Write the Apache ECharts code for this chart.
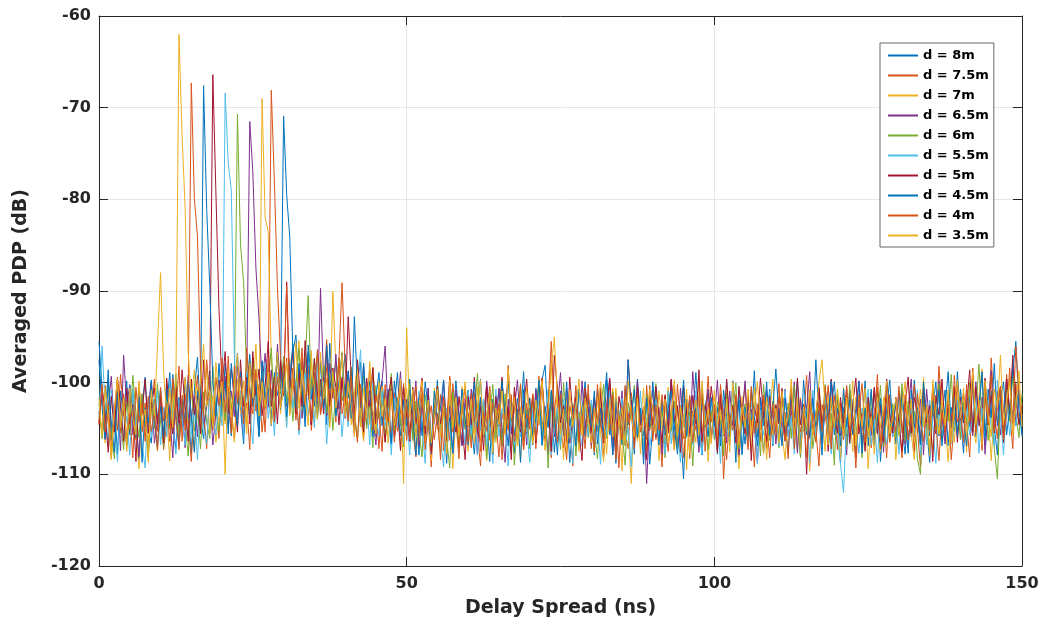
<!DOCTYPE html>
<html>
<head>
<meta charset="utf-8">
<title>Averaged PDP</title>
<script src="https://cdn.jsdelivr.net/npm/echarts@6/dist/echarts.min.js"></script>
<style>
  html, body { margin: 0; padding: 0; background: #fff; }
  #main { width: 1043px; height: 620px; }
</style>
</head>
<body>
<div id="main"></div>
<script>
// delay grid: one sample every 0.5 ns, 0..150 ns
var step = 0.5;

// averaged PDP (dB), one array per distance
var d8 = [
  -95.5, -100.7, -104.2, -98.6, -106.3, -102.4, -107.8, -100.9, -103.6, -99.8, -105.7, -101.5, -104.8, -108.4, -102.7, -99.4, -105.1, -106.6, -101.8, -103.9,
  -100.6, -105.8, -102.7, -98.9, -104.4, -107.2, -101.6, -104.9, -99.5, -103.3, -107.7, -100.8, -97.2, -103.8, -106.1, -101.9, -98.7, -104.6, -102.8, -99.7,
  -103.7, -97.9, -101.6, -105.8, -100.7, -96.8, -102.9, -106.7, -99.6, -104.1, -98.8, -101.7, -105.9, -97.6, -102.8, -100.5, -104.7, -98.9, -101.4, -99.6,
  -70.9, -79.5, -84.1, -96.7, -94.8, -100.6, -97.7, -103.8, -95.9, -99.7, -102.6, -96.8, -101.5, -98.7, -104.6, -95.7, -100.8, -97.6, -102.9, -99.8,
  -96.9, -101.7, -98.6, -103.8, -99.7, -97.8, -104.6, -100.9, -102.7, -99.2, -105.8, -101.6, -99.8, -103.7, -100.7, -106.8, -102.6, -98.9, -104.7, -101.8,
  -103.8, -99.6, -105.7, -102.8, -107.9, -101.7, -104.8, -100.6, -106.7, -103.7, -99.7, -105.6, -102.9, -108.8, -101.9, -104.7, -99.8, -103.6, -106.8, -102.7,
  -100.8, -104.6, -107.8, -102.9, -99.6, -105.8, -103.7, -108.6, -101.8, -104.9, -100.7, -106.9, -102.6, -99.8, -104.8, -107.7, -101.7, -103.9, -98.8, -105.6,
  -102.8, -106.8, -100.6, -103.9, -99.7, -98.1, -104.7, -101.8, -107.6, -103.6, -100.9, -105.8, -102.7, -108.7, -104.6, -101.8, -106.7, -102.9, -99.9, -105.7,
  -103.7, -107.9, -100.8, -104.9, -102.6, -98.9, -105.7, -101.9, -108.8, -103.8, -106.8, -100.7, -104.6, -102.9, -107.8, -99.6, -103.9, -105.8, -101.7, -108.9,
  -104.8, -100.6, -105.9, -102.8, -107.7, -103.9, -99.8, -106.8, -102.7, -104.9, -110.5, -101.8, -105.7, -103.8, -98.9, -104.7, -107.9, -102.6, -100.8, -105.8,
  -103.6, -107.8, -101.7, -105.8, -99.9, -104.8, -102.6, -108.7, -100.8, -103.9, -106.7, -101.9, -104.6, -98.7, -105.9, -102.8, -107.7, -103.8, -100.7, -106.9,
  -102.7, -105.9, -100.8, -104.7, -107.8, -101.6, -103.9, -99.8, -106.8, -102.9, -105.7, -100.9, -104.8, -97.5, -103.7, -107.9, -101.8, -105.6, -102.8, -99.9,
  -104.9, -108.8, -102.7, -105.9, -100.8, -103.8, -107.7, -101.9, -104.7, -99.8, -106.9, -102.8, -105.7, -100.9, -108.6, -103.7, -101.8, -105.8, -102.9, -106.7,
  -100.9, -104.8, -107.8, -102.7, -105.9, -99.7, -103.8, -106.8, -101.7, -104.9, -108.7, -102.8, -99.9, -105.8, -103.6, -100.8, -106.9, -102.7, -104.8, -98.8,
  -103.9, -107.7, -101.8, -104.8, -99.8, -105.9, -102.9, -98.9, -106.8, -103.8, -100.9, -104.7, -107.9, -101.7, -105.8, -99.9, -103.8, -97.9, -102.8, -100.8,
  -103.9
];
var d75 = [
  -103.2, -105.6, -100.3, -104.1, -108.3, -102.4, -105.2, -99.1, -103.4, -107.1, -101.3, -104.6, -106.2, -100.1, -105.4, -102.2, -107.9, -103.1, -99.6, -105.3,
  -102.1, -107.3, -104.4, -100.2, -105.1, -103.3, -98.2, -106.4, -101.2, -104.3, -108.6, -102.3, -99.2, -105.5, -103.1, -107.2, -100.4, -104.2, -102.4, -106.1,
  -100.3, -104.2, -97.1, -103.4, -106.2, -101.3, -99.1, -104.4, -102.2, -107.3, -98.3, -103.1, -100.2, -105.4, -102.1, -99.3, -68.1, -78, -89.6, -97.2,
  -101.1, -97.3, -103.2, -99.4, -104.1, -100.3, -96.2, -102.4, -98.1, -105.2, -101.3, -97.1, -103.4, -100.2, -95.3, -102.1, -99.2, -104.3, -97.4, -89.1,
  -98.2, -103.3, -100.1, -105.4, -99.2, -102.3, -106.1, -101.4, -104.2, -98.3, -103.1, -107.2, -100.4, -104.1, -102.3, -106.2, -101.1, -105.3, -103.2, -100.1,
  -106.3, -102.1, -105.2, -108.1, -103.4, -100.2, -106.1, -104.3, -109.2, -102.2, -105.1, -101.3, -107.4, -103.2, -106.3, -100.1, -104.2, -108.3, -102.4, -105.1,
  -103.3, -107.1, -101.2, -105.4, -109.1, -103.2, -100.4, -106.3, -102.1, -104.2, -108.1, -103.3, -105.2, -98.1, -104.3, -101.1, -106.2, -103.4, -107.3, -102.2,
  -105.1, -101.3, -107.2, -99.3, -104.1, -106.4, -102.2, -108.2, -103.1, -100.3, -105.2, -107.1, -102.4, -104.3, -109.1, -101.2, -106.3, -103.1, -105.4, -100.2,
  -107.2, -103.1, -105.3, -101.4, -108.1, -104.2, -100.1, -106.3, -103.2, -109.3, -102.1, -105.4, -107.2, -101.1, -104.4, -106.1, -103.3, -108.2, -100.3, -105.2,
  -102.4, -106.2, -104.1, -109.2, -101.3, -105.1, -103.4, -107.3, -100.2, -104.3, -106.1, -102.2, -108.3, -103.1, -105.2, -101.4, -107.1, -104.2, -99.3, -106.4,
  -103.1, -107.4, -101.2, -110.5, -104.3, -106.1, -102.4, -105.2, -108.1, -103.3, -100.2, -106.3, -104.1, -109.2, -102.3, -105.1, -101.4, -107.2, -103.1, -106.3,
  -104.2, -100.1, -106.4, -103.2, -108.3, -101.1, -105.3, -102.2, -107.1, -104.4, -99.2, -106.1, -103.3, -105.2, -109.1, -102.4, -104.1, -100.3, -106.2, -103.1,
  -107.3, -102.2, -105.1, -101.4, -106.2, -104.1, -109.3, -103.2, -100.1, -105.3, -102.4, -107.1, -104.2, -99.1, -106.3, -103.1, -108.2, -101.3, -105.1, -102.2,
  -104.1, -108.2, -101.3, -106.1, -103.4, -100.2, -105.1, -109.2, -102.3, -104.1, -107.3, -101.2, -105.4, -98.2, -103.1, -106.3, -102.1, -108.4, -104.2, -100.3,
  -106.1, -101.2, -104.3, -108.1, -99.2, -105.3, -102.1, -107.4, -100.2, -104.1, -97.3, -103.2, -106.1, -101.3, -105.2, -99.1, -103.3, -107.2, -100.1, -104.4,
  -102.3
];
var d7 = [
  -104.5, -100.4, -106.6, -102.5, -108.4, -103.6, -99.5, -105.4, -101.6, -107.5, -103.4, -100.6, -105.5, -109.4, -102.6, -104.5, -106.4, -101.5, -103.6, -107.4,
  -101.5, -105.6, -103.4, -108.5, -100.6, -104.4, -106.5, -102.6, -99.4, -105.5, -103.6, -107.4, -100.5, -104.6, -102.4, -98.5, -105.6, -101.4, -106.5, -103.6,
  -100.4, -104.5, -98.6, -102.4, -106.5, -99.6, -103.4, -101.5, -105.6, -97.4, -102.5, -100.6, -104.4, -69, -82, -83.5, -97.4, -101.6, -96.5, -103.4,
  -99.5, -104.6, -97.4, -102.5, -100.6, -95.4, -103.5, -98.6, -101.4, -96.5, -104.4, -100.5, -97.6, -102.4, -99.5, -103.6, -90, -98.4, -101.5, -96.6,
  -102.4, -99.5, -104.6, -101.4, -97.5, -103.6, -106.4, -100.5, -104.6, -98.4, -105.5, -102.6, -100.4, -106.5, -103.6, -99.4, -105.5, -101.6, -107.4, -103.5,
  -100.6, -105.4, -102.5, -107.6, -104.4, -101.5, -106.6, -103.4, -108.5, -100.6, -104.4, -107.5, -102.6, -105.4, -101.5, -109.4, -103.6, -106.5, -100.4, -104.6,
  -107.5, -102.4, -105.6, -100.5, -106.4, -103.6, -108.5, -101.4, -104.6, -106.5, -102.4, -99.6, -105.5, -103.4, -107.6, -101.5, -104.4, -108.6, -102.5, -105.4,
  -101.6, -106.5, -103.4, -99.6, -104.5, -107.4, -102.6, -97.5, -105.4, -100.6, -103.5, -108.4, -101.6, -106.5, -104.4, -102.6, -107.5, -103.4, -100.6, -105.5,
  -103.4, -107.6, -101.5, -105.4, -108.6, -102.5, -104.4, -100.6, -106.5, -103.4, -109.6, -101.5, -105.4, -111, -102.6, -106.4, -104.5, -100.6, -107.4, -103.5,
  -105.6, -101.4, -108.5, -103.6, -106.4, -100.5, -104.6, -107.4, -102.5, -105.6, -103.4, -109.5, -101.6, -104.4, -106.5, -99.6, -105.4, -102.5, -108.6, -103.4,
  -101.5, -105.6, -103.4, -107.5, -100.6, -106.4, -102.5, -104.6, -109.4, -101.5, -105.6, -103.4, -107.5, -100.6, -104.4, -106.5, -102.6, -108.4, -103.5, -99.6,
  -106.4, -102.5, -105.6, -108.4, -103.5, -100.6, -104.4, -107.5, -101.6, -105.4, -102.5, -109.6, -104.4, -106.5, -100.6, -103.4, -107.5, -101.6, -105.4, -102.5,
  -104.6, -108.4, -100.5, -105.6, -103.4, -107.5, -101.6, -104.4, -106.5, -102.6, -109.4, -103.5, -100.6, -105.4, -107.5, -101.6, -104.4, -106.5, -102.6, -108.4,
  -103.5, -100.6, -106.4, -102.5, -105.6, -108.4, -101.5, -104.6, -99.4, -106.5, -103.6, -107.4, -102.5, -105.6, -100.4, -104.5, -108.6, -103.4, -106.5, -101.6,
  -105.4, -102.5, -107.6, -100.4, -104.5, -106.6, -101.4, -98.5, -105.6, -103.4, -108.5, -102.6, -104.4, -100.5, -106.6, -103.4, -99.5, -105.6, -101.4, -104.5,
  -103.5
];
var d65 = [
  -104.3, -100.8, -106.2, -102.7, -99.3, -105.1, -101.8, -107.4, -97, -102.6, -100.2, -105.7, -103.9, -108.1, -101.3, -104.8, -102.5, -99.9, -106.6, -104.2,
  -101.7, -106.3, -100.1, -103.6, -108.2, -100.8, -104.9, -102.4, -107.1, -99.2, -103.8, -101.5, -105.9, -100.3, -104.7, -102.6, -100.9, -106.8, -103.4, -99.7,
  -102.8, -99.3, -104.6, -100.9, -103.7, -98.2, -101.8, -105.6, -99.9, -71.5, -77, -87.5, -93, -100.2, -96.8, -102.7, -98.6, -103.9, -95.8, -100.7,
  -97.8, -102.6, -99.7, -96.3, -101.8, -98.6, -103.9, -96.8, -100.7, -104.6, -98.9, -102.7, -89.7, -99.8, -103.6, -97.9, -101.7, -96.9, -102.8, -99.6,
  -103.9, -98.7, -101.8, -105.6, -99.8, -102.7, -97.9, -104.6, -100.8, -103.7, -106.8, -101.6, -99.8, -96, -103.8, -100.6, -105.9, -102.7, -98.8, -104.7,
  -101.8, -105.7, -103.6, -99.8, -106.9, -102.7, -104.8, -100.6, -107.8, -103.9, -101.7, -105.8, -99.7, -104.9, -102.6, -107.7, -100.8, -103.6, -106.9, -101.7,
  -104.8, -100.7, -103.8, -107.9, -101.6, -105.7, -99.8, -102.9, -106.7, -103.8, -100.6, -104.9, -108.7, -101.8, -105.6, -102.9, -99.7, -104.8, -101.9, -106.8,
  -102.9, -105.7, -100.8, -104.6, -99.9, -103.7, -107.8, -101.6, -105.9, -102.7, -98.9, -104.8, -100.7, -106.6, -103.9, -101.7, -105.8, -99.8, -104.9, -102.6,
  -106.8, -101.7, -104.9, -100.6, -105.8, -103.9, -99.7, -107.8, -102.6, -104.8, -100.9, -106.7, -103.8, -101.9, -105.7, -99.8, -104.6, -102.8, -111, -103.7,
  -100.8, -105.9, -102.7, -107.8, -101.6, -104.9, -99.7, -103.8, -106.9, -100.6, -104.8, -102.7, -105.9, -98.8, -103.7, -107.6, -101.9, -104.8, -100.7, -105.9,
  -103.8, -99.7, -105.9, -102.8, -106.6, -100.9, -104.7, -101.8, -107.9, -103.7, -99.8, -105.6, -102.9, -104.7, -108.8, -101.6, -103.9, -100.8, -105.7, -102.9,
  -106.7, -102.8, -104.9, -100.7, -105.8, -103.6, -99.9, -107.7, -101.8, -104.6, -102.9, -98.8, -105.7, -103.9, -100.6, -106.8, -102.7, -104.9, -99.7, -103.8,
  -101.9, -105.8, -103.7, -107.9, -100.8, -104.6, -102.9, -99.8, -106.7, -103.9, -101.6, -105.8, -100.9, -104.7, -102.8, -107.6, -99.9, -103.8, -105.9, -101.7,
  -104.8, -100.9, -106.7, -102.8, -99.6, -105.9, -103.7, -101.8, -107.9, -100.7, -104.8, -102.9, -105.6, -99.8, -103.9, -106.7, -101.8, -104.9, -100.6, -105.8,
  -102.7, -106.9, -100.8, -103.7, -105.8, -99.9, -104.7, -101.6, -107.8, -102.9, -98.7, -104.8, -100.9, -105.7, -102.8, -99.6, -103.9, -97.8, -104.7, -101.9,
  -103.8
];
var d6 = [
  -102.2, -106.1, -103.3, -100.0, -105.2, -108.3, -101.1, -104.2, -107.3, -102.0, -105.1, -99.2, -103.3, -106.0, -101.2, -104.1, -108.2, -102.3, -105.0, -100.1,
  -104.3, -107.0, -101.2, -105.1, -103.3, -99.0, -106.2, -102.1, -104.3, -108.0, -100.2, -105.3, -103.1, -107.2, -101.0, -104.3, -106.1, -98.2, -103.0, -105.2,
  -101.3, -104.1, -99.2, -103.0, -100.3, -70.7, -85, -89, -99.1, -103.2, -97.3, -101.0, -104.2, -98.1, -102.3, -100.0, -96.2, -103.1, -99.3, -101.2,
  -97.1, -102.3, -99.0, -104.2, -100.1, -96.3, -103.0, -98.2, -90.5, -101.1, -97.3, -104.0, -100.2, -98.1, -103.3, -99.0, -105.2, -101.1, -97.3, -102.0,
  -100.2, -104.1, -98.3, -103.0, -106.2, -101.1, -99.3, -105.0, -102.2, -107.1, -100.3, -104.0, -101.2, -106.1, -103.3, -99.0, -105.2, -102.1, -104.3, -107.0,
  -103.2, -100.1, -106.3, -102.0, -105.2, -108.1, -101.3, -104.0, -107.2, -103.1, -100.3, -105.0, -102.2, -106.1, -109.3, -101.0, -104.2, -107.1, -102.3, -105.0,
  -101.2, -106.1, -103.3, -99.0, -105.2, -102.1, -108.3, -104.0, -100.2, -106.1, -103.3, -107.0, -101.2, -105.1, -102.3, -109.0, -104.2, -100.1, -106.3, -103.0,
  -107.2, -102.1, -104.3, -100.0, -106.2, -103.1, -109.3, -101.0, -105.2, -103.1, -107.3, -100.0, -104.2, -106.1, -102.3, -108.0, -103.2, -105.1, -101.3, -106.0,
  -102.2, -105.1, -108.3, -103.0, -100.2, -106.1, -104.3, -101.0, -107.2, -103.1, -105.3, -109.0, -102.2, -104.1, -100.3, -106.0, -103.2, -107.1, -101.3, -105.0,
  -104.2, -100.1, -106.3, -103.0, -108.2, -101.1, -105.3, -102.0, -107.2, -104.1, -100.3, -106.0, -103.2, -109.1, -102.3, -105.0, -101.2, -104.1, -107.3, -103.0,
  -106.2, -102.1, -104.3, -108.0, -101.2, -105.1, -103.3, -100.0, -107.2, -104.1, -102.3, -106.0, -101.2, -105.1, -103.3, -108.0, -100.2, -104.1, -106.3, -102.0,
  -103.2, -107.1, -101.3, -105.0, -102.2, -106.1, -100.3, -104.0, -108.2, -103.1, -105.3, -101.0, -107.2, -104.1, -102.3, -106.0, -100.2, -105.1, -103.3, -109.0,
  -101.2, -105.1, -103.3, -107.0, -100.2, -104.1, -106.3, -102.0, -108.2, -103.1, -105.3, -101.0, -106.2, -104.1, -100.3, -107.0, -103.2, -105.1, -102.3, -106.0,
  -104.2, -100.1, -106.3, -102.0, -105.2, -103.1, -108.3, -110, -101.2, -104.1, -107.3, -102.0, -105.2, -100.1, -106.3, -103.0, -104.2, -99.1, -105.3, -102.0,
  -106.2, -102.1, -104.3, -100.0, -105.2, -103.1, -98, -104.2, -101.1, -106.3, -103.0, -107.2, -110.5, -102.1, -105.3, -100.0, -104.2, -99.1, -103.3, -106.0,
  -101.2
];
var d55 = [
  -103.8, -96, -102.7, -106.9, -100.8, -104.7, -108.6, -101.9, -105.8, -103.7, -107.9, -100.7, -104.8, -102.9, -106.7, -109.3, -101.8, -105.9, -103.7, -100.9,
  -106.8, -102.7, -105.9, -99.8, -104.7, -107.8, -101.9, -103.7, -106.8, -100.9, -105.7, -102.8, -108.4, -101.7, -104.9, -106.7, -100.8, -103.9, -105.7, -101.8,
  -104.7, -68.4, -76, -79, -97, -103.8, -100.9, -105.7, -98.8, -102.9, -106.7, -99.8, -104.9, -101.7, -97.8, -103.9, -100.7, -105.8, -98.9, -102.7,
  -100.8, -104.9, -97.7, -102.8, -99.9, -105.7, -101.8, -98.9, -103.7, -100.8, -104.9, -97.7, -102.8, -99.9, -106.7, -101.8, -98.9, -103.7, -100.8, -105.9,
  -101.7, -104.8, -99.9, -103.7, -100.8, -96.4, -104.9, -101.7, -106.8, -99.9, -103.7, -105.8, -100.9, -104.7, -102.8, -107.9, -101.7, -104.8, -99.9, -106.7,
  -103.8, -107.9, -101.7, -105.8, -100.9, -104.7, -108.8, -102.9, -106.7, -103.8, -100.9, -105.7, -109.2, -102.8, -104.9, -107.7, -101.8, -105.9, -103.7, -106.8,
  -100.9, -105.7, -102.8, -107.9, -104.7, -101.8, -106.9, -103.7, -108.8, -100.7, -105.9, -102.8, -104.7, -109.1, -101.9, -106.7, -103.8, -105.9, -100.7, -104.8,
  -108.7, -102.9, -105.8, -101.7, -106.9, -103.8, -100.7, -107.9, -104.8, -102.7, -106.9, -101.8, -105.7, -103.9, -108.8, -100.7, -104.8, -106.9, -102.7, -105.8,
  -101.9, -106.7, -103.8, -108.9, -102.7, -105.8, -100.9, -104.7, -107.8, -103.9, -101.7, -106.8, -104.9, -109.2, -102.7, -105.8, -100.9, -107.7, -103.8, -106.9,
  -104.7, -101.8, -105.9, -103.7, -107.8, -100.9, -106.7, -102.8, -104.9, -108.7, -101.8, -105.9, -103.7, -106.8, -100.9, -104.7, -107.8, -102.9, -105.7, -101.8,
  -105.9, -103.7, -108.8, -101.9, -104.7, -106.8, -102.9, -105.7, -100.8, -107.9, -103.7, -106.8, -101.9, -104.7, -108.8, -102.9, -105.7, -103.8, -100.9, -106.7,
  -102.8, -106.9, -104.7, -100.8, -105.9, -103.7, -107.8, -101.9, -106.7, -104.8, -102.9, -108.7, -100.8, -105.9, -103.7, -106.8, -101.9, -104.7, -107.8, -102.9,
  -105.7, -108.8, -112, -103.9, -106.7, -101.8, -104.9, -107.7, -102.8, -105.9, -100.7, -106.8, -103.9, -108.7, -101.8, -104.9, -106.7, -102.8, -105.9, -103.7,
  -107.8, -101.9, -104.7, -106.8, -102.9, -105.7, -100.8, -107.9, -103.7, -106.8, -101.9, -104.7, -108.8, -102.9, -105.7, -103.8, -100.9, -106.7, -104.8, -101.9,
  -104.7, -106.8, -101.9, -105.7, -103.8, -100.9, -107.7, -102.8, -105.9, -101.7, -104.8, -106.9, -99.7, -103.8, -107.9, -101.7, -105.8, -102.9, -104.7, -100.8,
  -105.8
];
var d5 = [
  -104.6, -100.5, -103.4, -107.6, -101.5, -105.4, -99.6, -102.5, -106.4, -100.6, -104.5, -102.4, -108.6, -101.5, -103.4, -99.6, -105.5, -102.4, -100.6, -104.5,
  -101.4, -106.6, -99.5, -103.4, -105.6, -100.5, -104.4, -98.6, -102.5, -106.4, -99.6, -103.5, -101.4, -105.6, -97.5, -102.4, -100.6, -66.4, -79.3, -92,
  -100.5, -96.6, -103.4, -98.5, -101.6, -105.4, -97.5, -102.6, -99.4, -104.5, -96.6, -101.4, -98.5, -103.6, -100.4, -95.5, -102.6, -99.4, -104.5, -97.6,
  -101.4, -89, -100.5, -96.6, -103.4, -98.5, -102.6, -95.4, -100.5, -104.6, -97.4, -101.5, -99.6, -103.4, -96.5, -102.6, -98.4, -100.5, -104.6, -99.4,
  -102.5, -92.8, -99.6, -103.4, -97.5, -101.6, -105.4, -99.5, -102.6, -98.4, -104.5, -100.6, -103.4, -106.5, -101.6, -99.4, -104.5, -102.6, -107.4, -100.5,
  -103.6, -106.4, -100.5, -104.6, -102.4, -99.5, -105.6, -101.4, -107.5, -103.6, -100.4, -104.5, -102.6, -106.4, -99.5, -103.6, -105.4, -101.5, -104.6, -108.4,
  -101.5, -104.6, -99.4, -105.5, -102.6, -107.4, -100.5, -103.6, -106.4, -101.5, -104.6, -99.4, -105.5, -102.6, -108.4, -100.5, -103.6, -105.4, -102.5, -99.6,
  -104.4, -101.5, -106.6, -103.4, -99.5, -105.6, -102.4, -107.5, -97, -100.6, -104.4, -102.5, -106.6, -99.4, -103.5, -101.6, -105.4, -108.5, -100.6, -103.4,
  -105.5, -101.6, -104.4, -100.5, -106.6, -102.4, -99.5, -104.6, -107.4, -101.5, -103.6, -105.4, -97.5, -102.5, -106.6, -100.4, -104.5, -102.6, -108.4, -101.5,
  -104.6, -100.4, -103.5, -106.6, -101.4, -105.5, -99.6, -104.4, -102.5, -107.6, -100.4, -103.5, -105.6, -101.4, -104.5, -98.6, -106.4, -102.5, -104.6, -100.4,
  -103.5, -107.6, -101.4, -105.5, -99.6, -104.4, -102.5, -106.6, -100.4, -103.5, -105.6, -101.4, -108.5, -102.6, -104.4, -99.5, -103.6, -106.4, -101.5, -105.6,
  -102.4, -104.5, -100.6, -106.4, -103.5, -101.6, -105.4, -99.5, -104.6, -102.4, -110, -101.5, -105.6, -103.4, -100.5, -104.6, -102.4, -107.5, -99.6, -103.4,
  -105.5, -101.6, -104.4, -100.5, -106.6, -102.4, -99.5, -105.6, -103.4, -107.5, -101.6, -104.4, -100.5, -105.6, -102.4, -106.5, -99.6, -103.4, -105.5, -101.6,
  -104.4, -107.5, -102.6, -99.4, -105.5, -101.6, -103.4, -106.5, -100.6, -104.4, -102.5, -108.6, -101.4, -103.5, -99.6, -105.4, -102.5, -104.6, -100.4, -106.5,
  -101.6, -104.4, -102.5, -98.6, -105.4, -100.5, -103.6, -106.4, -99.5, -104.6, -101.4, -105.5, -102.6, -100.4, -106.5, -99.6, -103.4, -97, -101.5, -104.6,
  -102.5
];
var d45 = [
  -97.5, -102.7, -106.1, -99.8, -104.3, -107.6, -100.9, -105.2, -101.7, -106.8, -100.3, -103.6, -105.9, -101.2, -108.7, -102.8, -104.4, -99.7, -103.9, -107.1,
  -102.6, -105.8, -100.7, -104.6, -99.1, -103.7, -106.9, -101.8, -104.3, -99.7, -103.8, -107.6, -100.9, -102.8, -67.6, -81, -89.5, -99.8, -103.6, -97.9,
  -102.7, -99.8, -105.6, -97.9, -101.8, -104.7, -98.8, -103.9, -100.7, -96.9, -102.6, -99.7, -105.8, -97.8, -101.9, -98.7, -103.8, -100.6, -96.8, -102.9,
  -98.8, -103.7, -99.9, -95.8, -102.7, -97.9, -100.6, -104.8, -96.7, -101.8, -99.6, -103.9, -97.7, -102.8, -95.9, -100.7, -98.8, -103.6, -99.9, -96.8,
  -101.7, -98.8, -103.9, -92.8, -100.7, -104.8, -97.9, -102.7, -99.8, -105.9, -101.6, -98.9, -104.7, -100.8, -103.9, -106.6, -99.8, -102.7, -105.8, -101.9,
  -104.7, -100.8, -103.6, -107.9, -101.7, -105.8, -99.9, -102.7, -106.8, -100.9, -104.6, -102.8, -99.7, -105.9, -103.8, -107.7, -101.9, -104.8, -100.7, -103.9,
  -106.8, -102.7, -99.9, -104.8, -101.6, -105.9, -103.7, -100.8, -107.8, -102.9, -104.7, -99.8, -103.6, -106.9, -101.7, -105.8, -102.9, -108.7, -100.8, -104.9,
  -101.7, -105.8, -103.9, -99.7, -106.8, -102.6, -104.9, -100.8, -103.7, -107.9, -101.6, -105.8, -99.9, -104.7, -102.8, -106.9, -100.7, -103.8, -105.9, -101.7,
  -104.8, -100.9, -106.7, -102.8, -105.9, -99.7, -103.8, -107.9, -101.6, -104.8, -102.7, -106.9, -97.5, -103.8, -100.7, -105.9, -102.8, -108.9, -101.7, -104.8,
  -99.9, -103.7, -106.8, -101.9, -105.7, -102.8, -100.9, -104.7, -107.8, -103.9, -99.7, -105.8, -101.9, -104.7, -102.8, -106.9, -100.7, -103.8, -105.9, -101.6,
  -104.8, -102.7, -106.9, -100.8, -103.7, -105.9, -99.8, -104.7, -101.9, -107.8, -102.7, -105.9, -100.8, -103.7, -106.9, -101.8, -104.7, -99.9, -105.8, -102.7,
  -98.5, -103.8, -106.9, -101.7, -104.8, -100.9, -105.7, -102.8, -107.9, -99.7, -103.8, -105.9, -101.7, -104.8, -102.9, -106.7, -100.8, -103.9, -99.8, -105.7,
  -102.8, -106.9, -100.7, -104.8, -101.9, -105.7, -103.8, -99.9, -107.7, -102.8, -104.9, -100.7, -106.8, -103.9, -101.7, -105.8, -102.9, -99.7, -104.8, -101.9,
  -105.7, -101.8, -103.9, -107.7, -100.8, -104.9, -102.7, -106.8, -99.9, -103.7, -105.8, -101.9, -104.7, -100.8, -106.9, -102.7, -98.8, -104.9, -101.7, -105.8,
  -100.7, -103.8, -106.9, -101.7, -99.8, -104.9, -102.7, -98.8, -105.9, -100.7, -103.8, -97.9, -104.7, -101.8, -99.9, -105.7, -102.8, -98.7, -95.5, -102.9,
  -105.8
];
var d4 = [
  -104.3, -100.2, -105.4, -102.5, -107.2, -103.3, -99.4, -105.5, -101.2, -106.3, -103.4, -108.2, -100.5, -104.3, -102.2, -106.4, -101.5, -105.3, -103.2, -107.4,
  -100.5, -104.2, -102.3, -106.4, -99.5, -103.2, -107.3, -101.4, -105.2, -100.3, -67.3, -80, -84, -98.2, -103.4, -97.5, -101.3, -105.2, -99.4, -102.5,
  -97.3, -103.2, -100.4, -105.5, -98.2, -102.3, -99.4, -104.5, -96.2, -101.3, -103.4, -98.5, -102.2, -100.3, -105.4, -97.5, -101.2, -104.3, -99.4, -102.5,
  -100.2, -89.5, -103.3, -98.4, -101.5, -105.2, -97.3, -102.4, -99.5, -104.2, -100.3, -96.4, -103.5, -101.2, -98.3, -104.4, -100.5, -102.2, -97.3, -103.4,
  -101.5, -104.2, -99.3, -103.4, -106.5, -100.2, -104.3, -102.4, -98.5, -105.2, -101.3, -103.4, -107.5, -100.2, -104.3, -101.4, -106.5, -103.2, -100.3, -105.4,
  -102.5, -106.2, -103.3, -100.4, -105.5, -101.2, -107.3, -104.4, -102.5, -106.2, -103.3, -108.4, -101.5, -104.2, -99.3, -105.4, -102.5, -107.2, -103.3, -100.4,
  -106.5, -101.2, -104.3, -102.4, -107.5, -103.2, -105.3, -100.4, -106.5, -104.2, -102.3, -108.4, -103.5, -105.2, -101.3, -106.4, -104.5, -100.2, -107.3, -103.4,
  -104.5, -101.2, -106.3, -103.4, -99.5, -105.2, -102.3, -95.5, -103.4, -106.5, -101.2, -105.3, -108.4, -102.5, -104.2, -100.3, -106.4, -103.5, -107.2, -101.3,
  -103.4, -107.5, -100.2, -104.3, -106.4, -102.5, -105.2, -101.3, -108.4, -103.5, -106.2, -100.3, -104.4, -102.5, -107.2, -101.3, -105.4, -103.5, -106.2, -100.3,
  -106.4, -102.5, -105.2, -101.3, -104.4, -107.5, -103.2, -100.3, -105.4, -102.5, -108.2, -104.3, -101.4, -106.5, -103.2, -105.3, -100.4, -107.5, -102.2, -104.3,
  -102.4, -106.5, -100.2, -104.3, -108.4, -103.5, -105.2, -101.3, -106.4, -102.5, -104.2, -107.3, -100.4, -105.5, -103.2, -106.3, -101.4, -104.5, -108.2, -102.3,
  -105.4, -101.5, -104.2, -106.3, -103.4, -100.5, -107.2, -102.3, -105.4, -103.5, -108.2, -101.3, -104.4, -106.5, -102.2, -105.3, -100.4, -103.5, -107.2, -101.3,
  -104.4, -102.5, -106.2, -100.3, -105.4, -103.5, -108.2, -101.3, -104.4, -106.5, -102.2, -105.3, -103.4, -100.5, -107.2, -104.3, -101.4, -106.5, -103.2, -105.3,
  -100.4, -105.5, -102.2, -106.3, -103.4, -107.5, -101.2, -104.3, -106.4, -102.5, -105.2, -100.3, -104.4, -108.5, -103.2, -105.3, -101.4, -106.5, -99.2, -104.3,
  -103.4, -106.5, -100.2, -104.3, -98.4, -105.5, -102.2, -106.3, -101.4, -104.5, -99.2, -105.3, -102.4, -100.5, -106.2, -103.3, -98.4, -104.5, -96, -101.2,
  -104.3
];
var d35 = [
  -101.7, -105.8, -100.6, -103.9, -107.7, -102.8, -99.6, -104.9, -101.7, -106.8, -100.6, -103.9, -105.7, -99.8, -104.6, -102.9, -108.7, -100.8, -103.6, -96,
  -88, -98.7, -103.8, -100.6, -104.9, -99.7, -62, -73, -81, -96.8, -101.7, -98.6, -103.9, -99.7, -95.8, -102.6, -100.9, -104.7, -97.8, -101.6,
  -99.9, -110, -98.7, -103.8, -100.6, -96.9, -102.7, -99.8, -104.6, -97.9, -101.7, -95.8, -103.6, -99.9, -102.7, -98.8, -104.6, -100.9, -96.7, -102.8,
  -100.7, -97.8, -103.6, -99.9, -95.7, -102.8, -98.6, -101.9, -104.7, -97.8, -100.6, -103.9, -96.7, -101.8, -99.6, -104.9, -98.7, -102.8, -100.6, -96.9,
  -103.7, -99.8, -102.6, -105.9, -98.7, -104.8, -100.6, -103.9, -97.7, -102.8, -105.6, -99.9, -103.7, -101.8, -106.6, -100.9, -104.7, -102.8, -99.6, -111,
  -94, -103.8, -100.7, -105.9, -102.6, -99.8, -104.7, -101.9, -106.6, -103.8, -100.7, -105.9, -102.6, -107.8, -99.7, -104.9, -101.6, -105.8, -102.7, -99.9,
  -104.7, -101.8, -106.6, -102.9, -99.7, -105.8, -103.6, -100.9, -107.7, -102.8, -104.6, -100.9, -105.7, -98.5, -103.8, -101.6, -106.9, -102.7, -104.8, -100.6,
  -103.8, -106.7, -101.9, -104.6, -99.8, -105.7, -102.9, -98.6, -95, -101.8, -105.7, -102.9, -107.6, -100.8, -104.7, -102.9, -99.6, -105.8, -101.7, -103.9,
  -106.6, -102.8, -104.7, -99.9, -103.6, -107.8, -101.7, -105.9, -100.6, -104.8, -102.7, -106.9, -99.8, -103.6, -105.9, -101.7, -107.8, -102.6, -104.9, -100.7,
  -102.8, -105.6, -100.9, -104.7, -101.8, -106.6, -103.9, -99.7, -105.8, -102.6, -104.9, -100.7, -107.8, -103.6, -101.9, -105.7, -99.8, -104.6, -102.9, -106.7,
  -100.8, -104.6, -102.9, -105.7, -101.8, -107.6, -99.9, -103.7, -106.8, -102.6, -104.9, -100.7, -105.8, -102.6, -99.9, -104.7, -107.8, -101.6, -103.9, -105.7,
  -102.8, -106.6, -100.9, -104.7, -103.8, -99.6, -105.9, -101.7, -107.8, -102.6, -104.9, -100.7, -105.8, -103.6, -99.9, -97.5, -102.7, -106.8, -101.6, -104.9,
  -100.7, -103.8, -105.9, -101.6, -104.7, -99.8, -106.9, -102.7, -104.8, -100.6, -105.9, -103.7, -107.8, -101.6, -104.9, -102.7, -99.8, -105.6, -103.9, -101.7,
  -105.8, -102.6, -99.9, -104.7, -101.8, -106.6, -103.9, -100.7, -104.8, -102.6, -107.9, -99.7, -103.8, -105.6, -101.9, -104.7, -100.8, -106.6, -102.9, -99.7,
  -103.8, -100.6, -105.9, -102.7, -98.8, -104.6, -101.9, -106.7, -99.8, -103.6, -105.9, -100.7, -102.8, -97, -104.6, -101.9, -99.8, -105.7, -102.6, -98.7,
  -104.8
];

var names = ['d = 8m', 'd = 7.5m', 'd = 7m', 'd = 6.5m', 'd = 6m', 'd = 5.5m', 'd = 5m', 'd = 4.5m', 'd = 4m', 'd = 3.5m'];
var curves = [d8, d75, d7, d65, d6, d55, d5, d45, d4, d35];
var colors = ['#0072BD', '#D95319', '#EDB120', '#7E2F8E', '#77AC30', '#4DBEEE', '#A2142F', '#0072BD', '#D95319', '#EDB120'];

var xTicks = [0, 50, 100, 150];
var yTicks = [-120, -110, -100, -90, -80, -70, -60];

var FONT = 'DejaVu Sans';
var AXIS_COLOR = '#262626';

function toPoints(vals) {
    return vals.map(function (v, i) { return [i * step, v]; });
}

var chart = echarts.init(document.getElementById('main'), null, { renderer: 'canvas' });

var seriesList = curves.map(function (vals, k) {
    return {
        name: names[k],
        type: 'line',
        xAxisIndex: 0,
        yAxisIndex: 0,
        data: toPoints(vals),
        symbol: 'none',
        showSymbol: false,
        lineStyle: { width: 1, color: colors[k] },
        itemStyle: { color: colors[k] },
        emphasis: { disabled: true },
        silent: true
    };
});

// box axes (top / right) only carry the inner ticks
function boxAxis(pos, min, max, interval) {
    return {
        type: 'value', position: pos, min: min, max: max, interval: interval,
        axisLine: { show: true, onZero: false, lineStyle: { color: AXIS_COLOR, width: 1 } },
        axisTick: { show: true, inside: true, length: 9, lineStyle: { color: AXIS_COLOR } },
        axisLabel: { show: false },
        splitLine: { show: false }
    };
}

chart.setOption({
    animation: false,
    backgroundColor: '#fff',
    grid: { left: 99, right: 21, top: 16, bottom: 54, containLabel: false, outerBoundsMode: 'none' },
    legend: {
        orient: 'vertical',
        left: 880,
        top: 43,
        data: names,
        itemWidth: 30,
        itemHeight: 14,
        itemGap: 7,
        padding: [6, 5, 5, 7],
        borderColor: '#666',
        borderWidth: 1,
        borderRadius: 0,
        backgroundColor: '#fff',
        itemStyle: { opacity: 0 },   // line only, no marker
        textStyle: { fontFamily: FONT, fontWeight: 'bold', fontSize: 13, color: '#000' }
    },
    xAxis: [
        {
            type: 'value', position: 'bottom',
            min: xTicks[0], max: xTicks[xTicks.length - 1], interval: 50,
            name: 'Delay Spread (ns)', nameLocation: 'middle', nameGap: 33,
            nameTextStyle: { fontFamily: FONT, fontWeight: 'bold', fontSize: 19, color: AXIS_COLOR },
            axisLine: { show: true, onZero: false, lineStyle: { color: AXIS_COLOR, width: 1 } },
            axisTick: { show: true, inside: true, length: 9, lineStyle: { color: AXIS_COLOR } },
            axisLabel: { fontFamily: FONT, fontWeight: 'bold', fontSize: 16, color: AXIS_COLOR, margin: 10 },
            splitLine: { show: true, lineStyle: { color: '#e6e6e6', width: 1 } }
        },
        boxAxis('top', xTicks[0], xTicks[xTicks.length - 1], 50)
    ],
    yAxis: [
        {
            type: 'value', position: 'left',
            min: yTicks[0], max: yTicks[yTicks.length - 1], interval: 10,
            name: 'Averaged PDP (dB)', nameLocation: 'middle', nameGap: 68,
            nameTextStyle: { fontFamily: FONT, fontWeight: 'bold', fontSize: 19, color: AXIS_COLOR },
            axisLine: { show: true, onZero: false, lineStyle: { color: AXIS_COLOR, width: 1 } },
            axisTick: { show: true, inside: true, length: 9, lineStyle: { color: AXIS_COLOR } },
            axisLabel: { fontFamily: FONT, fontWeight: 'bold', fontSize: 16, color: AXIS_COLOR, margin: 8 },
            splitLine: { show: true, lineStyle: { color: '#e6e6e6', width: 1 } }
        },
        boxAxis('right', yTicks[0], yTicks[yTicks.length - 1], 10)
    ],
    series: seriesList
});
</script>
</body>
</html>
